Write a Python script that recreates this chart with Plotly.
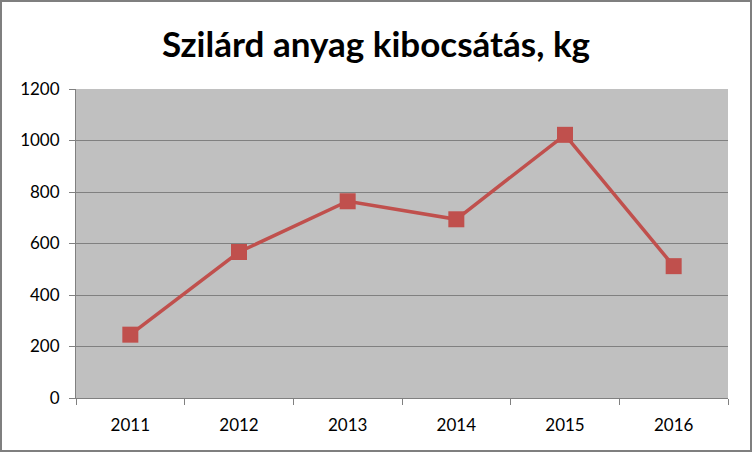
import plotly.graph_objects as go

years = ["2011", "2012", "2013", "2014", "2015", "2016"]
values = [246, 567, 764, 694, 1022, 512]
title_text = "Szilárd anyag kibocsátás, kg"

fig = go.Figure()
fig.add_trace(go.Scatter(
    x=years, y=values, mode="lines+markers",
    line=dict(color="#C0504D", width=3.5),
    marker=dict(symbol="square", size=16, color="#C0504D"),
    showlegend=False,
))

L, R, T, B = 76, 24, 89, 54
PW, PH = 752 - L - R, 452 - T - B

fig.update_layout(
    width=752, height=452,
    margin=dict(l=L, r=R, t=T, b=B),
    paper_bgcolor="white",
    plot_bgcolor="#C0C0C0",
    title=dict(text="<b>" + title_text + "</b>", x=0.5, xanchor="center",
               y=0.9, yanchor="middle",
               font=dict(family="Lato", size=35, color="black")),
    font=dict(family="Lato", size=17, color="black"),
    xaxis=dict(type="category", range=[-0.5, 5.5], tickson="boundaries",
               ticks="outside", ticklen=6,
               tickcolor="#808080", showline=True, linecolor="#808080", linewidth=1,
               showgrid=False, tickfont=dict(size=17), ticklabelstandoff=12),
    yaxis=dict(range=[0, 1200], dtick=200, ticks="outside", ticklen=6,
               tickcolor="#808080", showline=True, linecolor="#808080", linewidth=1,
               gridcolor="#808080", gridwidth=1, zeroline=False,
               tickfont=dict(size=17), ticklabelstandoff=6),
)
fig.add_shape(type="rect", xref="paper", yref="paper",
              x0=-L / PW, x1=1 + R / PW, y0=-B / PH, y1=1 + T / PH,
              line=dict(color="#7F7F7F", width=4), layer="above")

fig.write_html("out.html", config={"displayModeBar": False},
               post_script="document.body.style.margin='0';")
